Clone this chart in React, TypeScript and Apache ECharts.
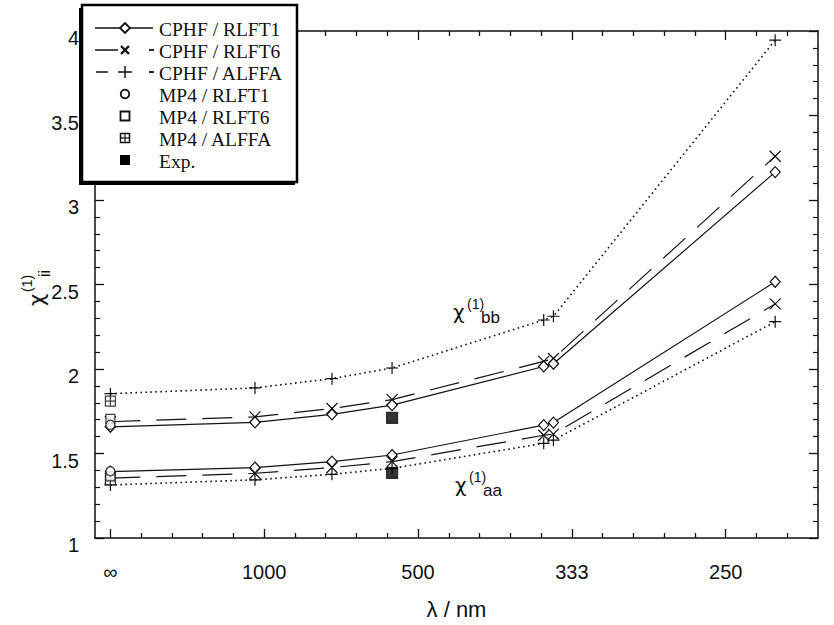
import React, { useEffect, useRef } from "react";
import * as echarts from "echarts";

// Wavelengths (nm) of the calculated points; x axis is 1000/λ
const wavelengthsNm = [Infinity, 1064, 694.3, 546.1, 355, 347.2, 231.4];

// χ(1)bb (upper group)
const cphfRlft1Bb = [1.658, 1.684, 1.731, 1.786, 2.015, 2.031, 3.165];
const cphfRlft6Bb = [1.688, 1.717, 1.766, 1.819, 2.045, 2.062, 3.259];
const cphfAlffaBb = [1.854, 1.888, 1.943, 2.006, 2.29, 2.312, 3.946];

// χ(1)aa (lower group)
const cphfRlft1Aa = [1.393, 1.417, 1.452, 1.491, 1.668, 1.683, 2.516];
const cphfRlft6Aa = [1.354, 1.383, 1.417, 1.452, 1.608, 1.615, 2.385];
const cphfAlffaAa = [1.314, 1.344, 1.377, 1.412, 1.56, 1.579, 2.28];

// MP4 static values [bb, aa]
const mp4Wavelength = Infinity;
const mp4Rlft1 = [1.67, 1.395];
const mp4Rlft6 = [1.705, 1.365];
const mp4Alffa = [1.81, 1.345];

// Experiment [bb, aa]
const expWavelength = 546.1;
const expValues = [1.711, 1.385];

// Axis ticks
const xTickValues = [0, 1, 2, 3, 4];
const xTickLabels = ["∞", "1000", "500", "333", "250"];
const xMinorTickValues = [0.2, 0.4, 0.6, 0.8, 1.2, 1.4, 1.6, 1.8, 2.2, 2.4, 2.6, 2.8, 3.2, 3.4, 3.6, 3.8, 4.2, 4.4];

const toX = (nm: number) => (isFinite(nm) ? 1000 / nm : 0);

const CROSS = "path://M0,0L10,10M10,0L0,10";
const PLUS = "path://M5,0L5,10M0,5L10,5";
const BOXPLUS = "path://M0,0L10,0L10,10L0,10ZM5,0L5,10M0,5L10,5";

const SANS = "Liberation Sans, Arial, Helvetica, sans-serif";
const GREEK = "DejaVu Sans, Liberation Sans, sans-serif";
const SERIF = "Liberation Serif, Times New Roman, serif";
const INK = "#111";
const GZ = 100;

function lineSeries(name: string, values: number[], lineType: any, symbol: string, size: any, fill: string, lw = 1.2) {
  return {
    type: "line",
    name,
    data: wavelengthsNm.map((w, i) => [toX(w), values[i]]),
    symbol,
    symbolSize: size,
    showSymbol: true,
    lineStyle: { color: INK, width: lw, type: lineType },
    itemStyle: { color: fill, borderColor: INK, borderWidth: 1.2 },
    emphasis: { disabled: true },
    silent: true,
    z: 3,
  };
}

function scatterSeries(name: string, nm: number, values: number[], symbol: string, size: number, fill: string) {
  return {
    type: "scatter",
    name,
    data: values.map((v) => [toX(nm), v]),
    symbol,
    symbolSize: size,
    itemStyle: { color: fill, borderColor: INK, borderWidth: 1.2 },
    emphasis: { disabled: true },
    silent: true,
    z: 4,
  };
}

function txt(text: string, x: number, y: number, size: number, family = SANS, align = "left") {
  return {
    type: "text",
    x,
    y,
    z: GZ + 2,
    style: {
      text,
      fill: INK,
      fontSize: size,
      fontFamily: family,
      align,
      textAlign: align,
      verticalAlign: "middle",
      textVerticalAlign: "middle",
    },
  };
}

function seg(x1: number, y1: number, x2: number, y2: number, lw = 1.3) {
  return { type: "line", z: GZ + 2, shape: { x1, y1, x2, y2 }, style: { stroke: INK, lineWidth: lw } };
}

function legendGraphics() {
  const rows = [28, 50, 72, 94, 116, 138, 160];
  const cx = 125;
  const labels = ["CPHF / RLFT1", "CPHF / RLFT6", "CPHF / ALFFA", "MP4 / RLFT1", "MP4 / RLFT6", "MP4 / ALFFA", "Exp."];
  const children: any[] = [
    { type: "rect", z: GZ, shape: { x: 79, y: 8, width: 216, height: 177 }, style: { fill: "#000" } },
    { type: "rect", z: GZ + 1, shape: { x: 82, y: 5, width: 215, height: 177 }, style: { fill: "#fff", stroke: "#000", lineWidth: 2.5 } },
  ];
  // row 1: solid + diamond
  let y = rows[0];
  children.push(seg(95, y, 153, y, 1.5));
  children.push({ type: "polygon", z: GZ + 3, shape: { points: [[cx, y - 5], [cx + 5, y], [cx, y + 5], [cx - 5, y]] }, style: { fill: "#fff", stroke: INK, lineWidth: 1.8 } });
  // row 2: long dash + cross
  y = rows[1];
  children.push(seg(95, y, 118, y, 1.5));
  children.push(seg(cx - 4, y - 4, cx + 4, y + 4, 2.4));
  children.push(seg(cx + 4, y - 4, cx - 4, y + 4, 2.4));
  children.push(seg(149, y, 154, y, 1.8));
  // row 3: dash + plus
  y = rows[2];
  children.push(seg(96, y, 108, y, 1.5));
  children.push(seg(cx - 7, y, cx + 7, y, 1.5));
  children.push(seg(cx, y - 6, cx, y + 6, 1.5));
  children.push(seg(149, y, 154, y, 1.8));
  // row 4: circle
  y = rows[3];
  children.push({ type: "circle", z: GZ + 2, shape: { cx, cy: y, r: 4.3 }, style: { fill: "#fff", stroke: INK, lineWidth: 1.8 } });
  // row 5: square
  y = rows[4];
  children.push({ type: "rect", z: GZ + 2, shape: { x: cx - 4.5, y: y - 4.5, width: 9, height: 9 }, style: { fill: "#fff", stroke: INK, lineWidth: 1.8 } });
  // row 6: boxed plus
  y = rows[5];
  children.push({ type: "rect", z: GZ + 2, shape: { x: cx - 4.5, y: y - 4.5, width: 9, height: 9 }, style: { fill: "#fff", stroke: INK, lineWidth: 1.5 } });
  children.push(seg(cx - 4.5, y, cx + 4.5, y, 1.2));
  children.push(seg(cx, y - 4.5, cx, y + 4.5, 1.2));
  // row 7: filled square
  y = rows[6];
  children.push({ type: "rect", z: GZ + 2, shape: { x: cx - 5, y: y - 5, width: 10, height: 10 }, style: { fill: "#000" } });

  labels.forEach((l, i) => children.push(txt(l, 159, rows[i] + 1, 19.5, SERIF)));
  return { type: "group", z: GZ, children };
}

function chiLabel(sub: string, x: number, y: number) {
  return {
    type: "group",
    x,
    y,
    z: GZ,
    children: [txt("χ", 0, 1, 20, GREEK), txt("(1)", 14, -7, 14, SANS), txt(sub, 28, 6, 17, SANS)],
  };
}

function yName() {
  return {
    type: "group",
    x: 36,
    y: 300,
    rotation: Math.PI / 2,
    z: GZ,
    children: [txt("χ", 0, 0, 22, GREEK, "center"), txt("(1)", 8, -9, 14, SANS), txt("ii", 23, 8, 16, SANS)],
  };
}

function xAxisDef(position: string, minor: boolean, labels: boolean) {
  return {
    type: "value",
    position,
    min: -0.1,
    max: 4.6,
    axisLine: { show: !minor, onZero: false, lineStyle: { color: INK, width: 1.5 } },
    splitLine: { show: false },
    axisTick: {
      show: true,
      inside: true,
      length: minor ? 5 : 9,
      customValues: minor ? xMinorTickValues : xTickValues,
      lineStyle: { color: INK, width: 1.3 },
    },
    axisLabel: labels
      ? {
          show: true,
          customValues: xTickValues,
          margin: 24,
          color: INK,
          fontSize: 20,
          fontFamily: SANS,
          formatter: (v: number) => xTickLabels[xTickValues.indexOf(Math.round(v))] ?? "",
        }
      : { show: false },
    ...(labels
      ? {
          name: "λ / nm",
          nameLocation: "middle",
          nameGap: 60,
          nameTextStyle: { color: INK, fontSize: 22, fontFamily: SANS },
        }
      : {}),
  };
}

function yAxisDef(position: string, labels: boolean) {
  return {
    type: "value",
    position,
    min: 1,
    max: 4,
    interval: 0.5,
    axisLine: { show: true, onZero: false, lineStyle: { color: INK, width: 1.5 } },
    splitLine: { show: false },
    axisTick: { show: true, inside: true, length: 9, lineStyle: { color: INK, width: 1.3 } },
    minorTick: { show: true, splitNumber: 5, length: 5, lineStyle: { color: INK, width: 1.2 } },
    minorSplitLine: { show: false },
    axisLabel: labels
      ? { show: true, margin: 16, color: INK, fontSize: 20, fontFamily: SANS, verticalAlign: "top", lineHeight: 14 }
      : { show: false },
  };
}

export default function App() {
  const ref = useRef<HTMLDivElement>(null);
  useEffect(() => {
    const chart = echarts.init(ref.current!, null, { renderer: "svg" });
    const dashLong = [30, 16];
    const dotted = [1.6, 3.4];
    chart.setOption({
      animation: false,
      backgroundColor: "#fff",
      grid: { left: 95, top: 31, right: 16, bottom: 85, containLabel: false },
      xAxis: [
        xAxisDef("bottom", false, true),
        xAxisDef("bottom", true, false),
        xAxisDef("top", false, false),
        xAxisDef("top", true, false),
      ],
      yAxis: [yAxisDef("left", true), yAxisDef("right", false)],
      series: [
        lineSeries("CPHF / ALFFA", cphfAlffaBb, dotted, PLUS, 12, "transparent", 1.6),
        lineSeries("CPHF / ALFFA", cphfAlffaAa, dotted, PLUS, 12, "transparent", 1.6),
        lineSeries("CPHF / RLFT6", cphfRlft6Bb, dashLong, CROSS, 11, "transparent"),
        lineSeries("CPHF / RLFT6", cphfRlft6Aa, dashLong, CROSS, 11, "transparent"),
        lineSeries("CPHF / RLFT1", cphfRlft1Bb, "solid", "diamond", [10, 11], "#fff"),
        lineSeries("CPHF / RLFT1", cphfRlft1Aa, "solid", "diamond", [10, 11], "#fff"),
        scatterSeries("MP4 / ALFFA", mp4Wavelength, mp4Alffa, BOXPLUS, 10, "#fff"),
        scatterSeries("MP4 / RLFT6", mp4Wavelength, mp4Rlft6, "rect", 9, "#fff"),
        scatterSeries("MP4 / RLFT1", mp4Wavelength, mp4Rlft1, "circle", 9, "#fff"),
        scatterSeries("Exp.", expWavelength, expValues, "rect", 11, "#000"),
      ],
      graphic: [legendGraphics(), chiLabel("bb", 453, 311), chiLabel("aa", 455, 484), yName()],
    });
    return () => chart.dispose();
  }, []);
  return (
    <div
      ref={ref}
      style={{ position: "fixed", left: 0, top: 0, width: 834, height: 625, background: "#fff" }}
    />
  );
}
